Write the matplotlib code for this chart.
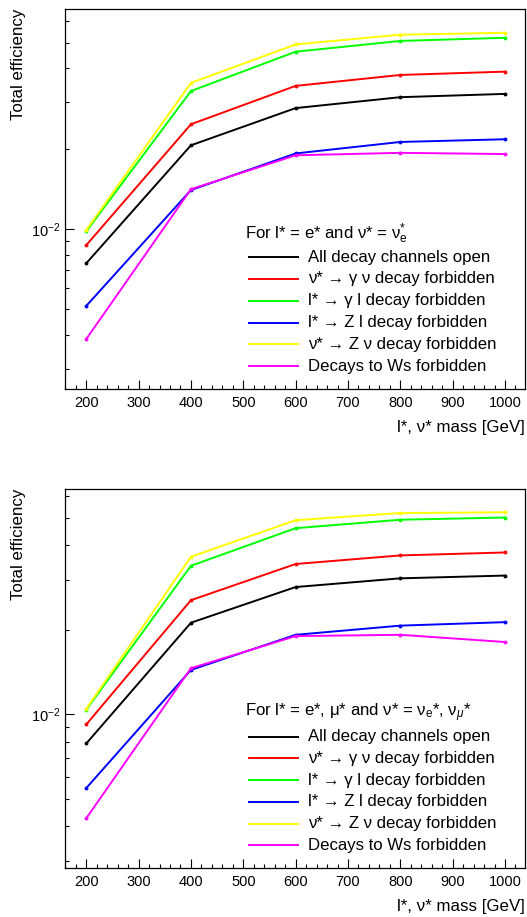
import matplotlib
matplotlib.use("Agg")
import matplotlib.pyplot as plt
from matplotlib.ticker import LogLocator, MultipleLocator, FixedLocator, FixedFormatter, NullFormatter

plt.rcParams['font.family'] = ['Liberation Sans', 'DejaVu Sans']
plt.rcParams['mathtext.fontset'] = 'custom'
plt.rcParams['mathtext.rm'] = 'Liberation Sans'
plt.rcParams['mathtext.it'] = 'Liberation Sans:italic'

# masses (GeV)
masses = [200, 400, 600, 800, 1000]

labels = ["All decay channels open",
          "ν* → γ ν decay forbidden",
          "l* → γ l decay forbidden",
          "l* → Z l decay forbidden",
          "ν* → Z ν decay forbidden",
          "Decays to Ws forbidden"]
colors = ["#000000", "#ff0000", "#00ff00", "#0000ff", "#ffff00", "#ff00ff"]

# top panel: electrons only
eff_e_all   = [0.00744, 0.0206, 0.0284, 0.0312, 0.0321]
eff_e_nogn  = [0.0087, 0.0247, 0.0344, 0.0378, 0.0389]
eff_e_nogl  = [0.0098, 0.0329, 0.0462, 0.0507, 0.0521]
eff_e_nozl  = [0.00515, 0.0140, 0.0192, 0.0212, 0.0217]
eff_e_nozn  = [0.00991, 0.0353, 0.0492, 0.0535, 0.0544]
eff_e_now   = [0.00387, 0.0141, 0.0189, 0.0193, 0.0191]

# bottom panel: electrons + muons
eff_em_all  = [0.00788, 0.0212, 0.0284, 0.0305, 0.0312]
eff_em_nogn = [0.00921, 0.0255, 0.0343, 0.0368, 0.0377]
eff_em_nogl = [0.0104, 0.0338, 0.0460, 0.0493, 0.0502]
eff_em_nozl = [0.00547, 0.0144, 0.0192, 0.0207, 0.0213]
eff_em_nozn = [0.01047, 0.0364, 0.0491, 0.0521, 0.0524]
eff_em_now  = [0.00427, 0.0146, 0.0190, 0.0192, 0.0181]

panels = [
    dict(series=[eff_e_all, eff_e_nogn, eff_e_nogl, eff_e_nozl, eff_e_nozn, eff_e_now],
         ylim=(0.002514, 0.0668),
         header="For l* = e* and ν* = ν${}_{\\mathrm{e}}^{*}$",
         rect=[0.124, 0.5758, 0.872, 0.4144]),
    dict(series=[eff_em_all, eff_em_nogn, eff_em_nogl, eff_em_nozl, eff_em_nozn, eff_em_now],
         ylim=(0.00284, 0.0634),
         header="For l* = e*, μ* and ν* = ν${}_{\\mathrm{e}}$*, ν${}_{\\mu}$*",
         rect=[0.124, 0.0534, 0.872, 0.4133]),
]

fig = plt.figure(figsize=(5.27, 9.17), dpi=100)

for p in panels:
    ax = fig.add_axes(p["rect"])
    for vals, c in zip(p["series"], colors):
        ax.plot(masses, vals, color=c, lw=1.4, marker='o', ms=1.8, mec=c, mfc=c)
    ax.set_yscale('log')
    ax.set_xlim(160, 1038)
    ax.set_ylim(*p["ylim"])

    # ROOT-like ticks: inside, only on bottom and left
    ax.tick_params(which='both', direction='in', top=False, right=False, labelsize=10.5)
    ax.tick_params(which='major', length=6.3, width=0.8)
    ax.tick_params(which='minor', length=3.2, width=0.8)
    ax.tick_params(axis='x', which='both', pad=5.0)
    ax.xaxis.set_major_locator(MultipleLocator(100))
    ax.xaxis.set_minor_locator(MultipleLocator(20))
    ax.yaxis.set_major_locator(FixedLocator([0.01]))
    ax.yaxis.set_major_formatter(FixedFormatter(["$10^{-2}$"]))
    ax.yaxis.set_minor_locator(LogLocator(base=10, subs=range(2, 10)))
    ax.yaxis.set_minor_formatter(NullFormatter())
    for s in ax.spines.values():
        s.set_linewidth(0.9)

    ax.set_xlabel("l*, ν* mass [GeV]", loc='right', fontsize=12.2, labelpad=7)
    ax.set_ylabel("Total efficiency", loc='top', fontsize=12.2)
    ax.yaxis.set_label_coords(-0.086, 1.0)

    # legend drawn ROOT style
    ax.text(0.390, 0.409, p["header"], transform=ax.transAxes, fontsize=12.1, va='center', ha='left')
    for i, (lab, c) in enumerate(zip(labels, colors)):
        yy = 0.347 - i * 0.0574
        ax.plot([0.3996, 0.5055], [yy, yy], transform=ax.transAxes, color=c, lw=1.4)
        ax.text(0.527, yy, lab, transform=ax.transAxes, fontsize=12.1, va='center', ha='left')

fig.savefig("out.png", dpi=100)
